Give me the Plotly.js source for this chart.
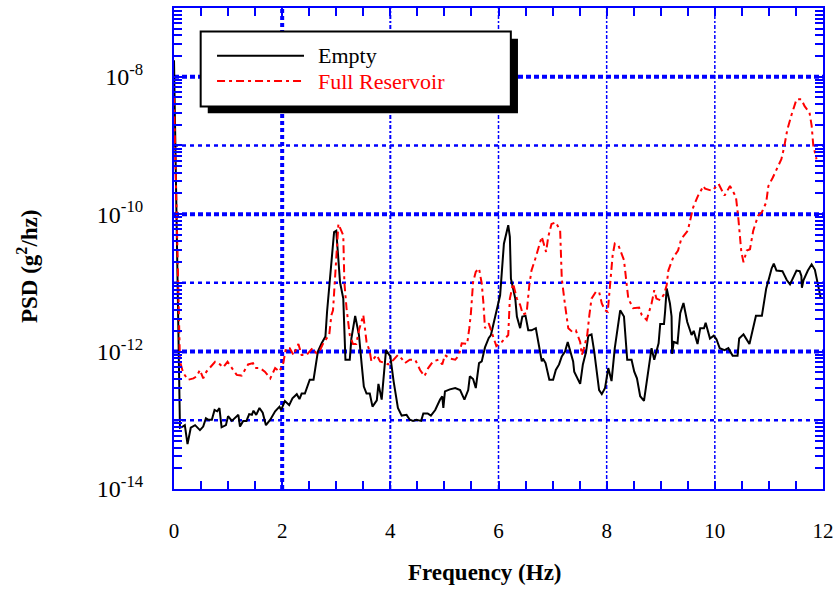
<!DOCTYPE html>
<html>
<head>
<meta charset="utf-8">
<script src="https://cdn.plot.ly/plotly-3.0.1.min.js"></script>
<style>html,body{margin:0;padding:0;background:#fff;}#chart{width:837px;height:590px;}</style>
</head>
<body>
<div id="chart"></div>
<script>
// ---- Data ----
const seriesNames = ['Empty', 'Full Reservoir'];

const emptyFreq = [0.00,0.11,0.16,0.20,0.25,0.31,0.39,0.48,0.54,0.59,0.63,0.70,0.75,0.80,0.84,0.88,0.96,1.00,1.07,1.13,1.19,1.22,1.28,1.34,1.39,1.44,1.47,1.52,1.58,1.64,1.70,1.78,1.87,1.95,1.98,2.05,2.13,2.19,2.27,2.32,2.36,2.42,2.51,2.58,2.66,2.73,2.80,2.83,2.88,2.92,2.96,3.00,3.07,3.13,3.17,3.25,3.28,3.35,3.42,3.47,3.51,3.56,3.62,3.67,3.75,3.78,3.84,3.92,4.00,4.06,4.14,4.21,4.30,4.36,4.42,4.48,4.57,4.61,4.69,4.75,4.83,4.92,4.96,4.98,5.01,5.10,5.20,5.29,5.37,5.44,5.47,5.53,5.58,5.64,5.69,5.75,5.82,5.86,5.94,5.99,6.03,6.10,6.18,6.21,6.23,6.31,6.34,6.40,6.44,6.50,6.55,6.61,6.69,6.74,6.80,6.82,6.87,6.94,7.01,7.06,7.12,7.17,7.23,7.28,7.34,7.38,7.40,7.46,7.51,7.56,7.62,7.66,7.72,7.77,7.83,7.86,7.91,7.97,8.03,8.09,8.15,8.20,8.25,8.32,8.38,8.46,8.51,8.56,8.62,8.69,8.77,8.83,8.88,8.96,8.99,9.06,9.08,9.11,9.17,9.20,9.21,9.24,9.31,9.36,9.42,9.49,9.57,9.61,9.68,9.73,9.80,9.83,9.91,9.98,10.03,10.09,10.18,10.25,10.33,10.42,10.45,10.53,10.64,10.76,10.87,10.95,11.00,11.05,11.09,11.14,11.25,11.33,11.39,11.45,11.51,11.57,11.60,11.61,11.64,11.72,11.79,11.85,11.90,11.96];
const emptyPSD = [1.74e-8,7.8e-14,8.1e-14,8.5e-14,4.5e-14,7.8e-14,8.5e-14,7.2e-14,8.1e-14,1.07e-13,1.02e-13,1.02e-13,1.41e-13,1.35e-13,1.51e-13,7.9e-14,8.5e-14,1.15e-13,9.8e-14,1.07e-13,1.20e-13,8.1e-14,9.8e-14,9.8e-14,1.23e-13,1.20e-13,1.38e-13,1.20e-13,1.51e-13,1.29e-13,8.5e-14,1.02e-13,1.35e-13,1.58e-13,1.41e-13,1.91e-13,1.66e-13,2.09e-13,2.40e-13,2.04e-13,2.45e-13,2.45e-13,3.89e-13,3.89e-13,1.0e-12,1.32e-12,1.66e-12,3.80e-12,1.02e-11,2.51e-11,5.5e-11,5.75e-11,1.02e-11,5.9e-12,7.6e-13,7.6e-13,1.55e-12,3.31e-12,1.74e-12,6.5e-13,3.09e-13,2.45e-13,2.45e-13,1.58e-13,1.95e-13,3.39e-13,2.0e-13,1.05e-12,8.5e-13,3.72e-13,1.51e-13,1.17e-13,1.20e-13,1.02e-13,9.8e-14,1.02e-13,9.8e-14,1.26e-13,1.26e-13,1.17e-13,1.41e-13,2.0e-13,2.24e-13,1.51e-13,2.63e-13,2.82e-13,2.95e-13,2.75e-13,2.0e-13,2.75e-13,4.37e-13,3.98e-13,2.95e-13,6.8e-13,7.2e-13,1.15e-12,1.58e-12,1.74e-12,3.39e-12,5.2e-12,6.6e-12,3.72e-11,6.9e-11,4.68e-11,1.15e-11,5.9e-12,3.24e-12,2.19e-12,3.24e-12,3.31e-12,2.04e-12,2.04e-12,2.19e-12,1.32e-12,7.2e-13,7.9e-13,6.8e-13,3.89e-13,3.89e-13,5.4e-13,6.5e-13,8.5e-13,1.0e-12,1.38e-12,9.5e-13,7.2e-13,5.1e-13,3.98e-13,3.39e-13,6.5e-13,1.0e-12,1.70e-12,1.78e-12,1.0e-12,3.72e-13,2.75e-13,2.40e-13,2.95e-13,5.75e-13,3.72e-13,1.12e-12,2.19e-12,3.98e-12,3.24e-12,7.6e-13,7.6e-13,5.1e-13,4.07e-13,2.24e-13,1.91e-13,5.75e-13,1.12e-12,7.6e-13,1.32e-12,2.51e-12,2.51e-12,3.80e-12,8.3e-12,5.0e-12,3.24e-12,9.3e-13,1.38e-12,1.32e-12,3.63e-12,5.1e-12,2.69e-12,1.74e-12,2.0e-12,1.29e-12,2.19e-12,2.19e-12,2.63e-12,1.55e-12,1.70e-12,1.51e-12,1.12e-12,1.05e-12,1.12e-12,8.7e-13,8.7e-13,1.55e-12,1.78e-12,1.29e-12,3.31e-12,3.31e-12,8.3e-12,1.15e-11,1.62e-11,1.91e-11,1.51e-11,1.48e-11,1.10e-11,9.5e-12,1.23e-11,1.51e-11,1.48e-11,1.26e-11,8.5e-12,1.10e-11,1.51e-11,1.86e-11,1.55e-11,1.0e-11,5.9e-12];

const fullFreq = [0.00,0.11,0.17,0.26,0.36,0.42,0.48,0.54,0.60,0.67,0.76,0.85,0.91,0.99,1.07,1.16,1.25,1.31,1.37,1.46,1.50,1.59,1.68,1.78,1.87,1.95,2.02,2.07,2.14,2.21,2.30,2.36,2.45,2.56,2.63,2.70,2.77,2.87,2.91,2.94,3.04,3.13,3.15,3.19,3.22,3.25,3.31,3.37,3.42,3.50,3.53,3.56,3.62,3.65,3.75,3.81,3.90,3.96,4.06,4.14,4.21,4.27,4.36,4.46,4.55,4.63,4.70,4.79,4.89,4.96,5.01,5.10,5.20,5.27,5.32,5.42,5.46,5.49,5.53,5.58,5.64,5.69,5.72,5.75,5.82,5.89,5.96,6.06,6.18,6.21,6.27,6.34,6.40,6.45,6.52,6.57,6.61,6.68,6.74,6.80,6.88,6.92,6.98,7.06,7.14,7.17,7.23,7.29,7.36,7.43,7.51,7.54,7.58,7.64,7.68,7.72,7.80,7.86,7.91,7.97,8.02,8.06,8.11,8.15,8.22,8.32,8.37,8.40,8.49,8.60,8.65,8.74,8.83,8.88,8.92,8.99,9.06,9.11,9.14,9.23,9.32,9.38,9.50,9.57,9.60,9.69,9.79,9.82,9.95,10.07,10.18,10.28,10.39,10.43,10.46,10.49,10.53,10.59,10.65,10.71,10.80,10.87,10.95,10.99,11.07,11.17,11.23,11.28,11.34,11.42,11.51,11.60,11.66,11.75,11.79,11.82,11.88];
const fullPSD = [5.0e-9,7.2e-13,4.9e-13,3.89e-13,4.07e-13,4.37e-13,5.4e-13,4.07e-13,5.1e-13,6.0e-13,7.1e-13,6.5e-13,5.9e-13,7.1e-13,5.75e-13,4.57e-13,4.47e-13,5.4e-13,6.5e-13,6.8e-13,5.75e-13,5.75e-13,5.1e-13,4.07e-13,5.75e-13,5.1e-13,6.8e-13,1.12e-12,1.12e-12,8.9e-13,1.29e-12,8.9e-13,8.9e-13,1.12e-12,9.5e-13,1.05e-12,1.38e-12,1.74e-12,3.39e-12,3.98e-12,7.2e-11,4.9e-11,1.02e-11,4.27e-12,2.51e-12,1.74e-12,1.29e-12,1.29e-12,2.04e-12,3.39e-12,2.19e-12,1.38e-12,1.0e-12,7.2e-13,8.9e-13,7.2e-13,6.8e-13,6.5e-13,7.6e-13,8.9e-13,7.9e-13,6.8e-13,7.6e-13,7.6e-13,5.4e-13,4.37e-13,5.75e-13,7.2e-13,7.6e-13,6.5e-13,8.9e-13,7.9e-13,7.6e-13,8.9e-13,1.32e-12,1.29e-12,2.19e-12,3.63e-12,1.02e-11,1.45e-11,1.62e-11,9.8e-12,5.2e-12,2.19e-12,2.57e-12,1.74e-12,1.2e-12,1.38e-12,1.74e-12,5.9e-12,9.8e-12,5.9e-12,4.79e-12,3.47e-12,3.63e-12,9.3e-12,1.51e-11,2.24e-11,3.31e-11,4.68e-11,2.82e-11,4.68e-11,7.2e-11,7.6e-11,5.75e-11,1.15e-11,4.79e-12,2.19e-12,1.95e-12,2.04e-12,1.38e-12,8.9e-13,1.12e-12,1.74e-12,3.39e-12,5.9e-12,7.4e-12,7.4e-12,5.0e-12,3.98e-12,3.80e-12,8.3e-12,2.51e-11,3.72e-11,3.47e-11,2.14e-11,9.8e-12,5.9e-12,4.27e-12,4.37e-12,3.39e-12,2.88e-12,5.0e-12,7.8e-12,5.9e-12,5.6e-12,6.8e-12,9.3e-12,1.51e-11,2.34e-11,2.95e-11,4.37e-11,5.75e-11,9.5e-11,1.26e-10,1.86e-10,2.57e-10,2.34e-10,2.19e-10,2.75e-10,1.86e-10,2.57e-10,1.78e-10,9.5e-11,4.9e-11,2.82e-11,2.0e-11,2.95e-11,3.09e-11,5.75e-11,9.5e-11,1.07e-10,1.48e-10,2.57e-10,3.39e-10,5.0e-10,6.3e-10,9.3e-10,1.70e-9,2.82e-9,4.68e-9,4.68e-9,3.72e-9,3.02e-9,1.95e-9,1.0e-9,6.3e-10];

// Axis labels
const xLabelVals = [0, 2, 4, 6, 8, 10, 12];
const xLabels = ['0', '2', '4', '6', '8', '10', '12'];
const yLabelVals = [1e-14, 1e-12, 1e-10, 1e-8];
const yLabels = ['10<sup>-14</sup>', '10<sup>-12</sup>', '10<sup>-10</sup>', '10<sup>-8</sup>'];
const xTitle = '<b>Frequency (Hz)</b>';
const yTitle = '<b>PSD (g<sup>2</sup>/hz)</b>';

// ---- Tick arrays (labels at even positions, minor ticks elsewhere) ----
const BLUE = '#0000ff';
const SERIF = 'Liberation Serif, Times New Roman, serif';
const xTickVals = [], xTickText = [];
for (let i = 0; i <= 24; i++) {
  const v = i * 0.5;
  xTickVals.push(v);
  const k = xLabelVals.indexOf(v);
  xTickText.push(k >= 0 ? xLabels[k] : '');
}
const yTickVals = [], yTickText = [];
for (let e = -14; e <= -7; e++) {
  for (let m = 1; m <= 9; m++) {
    if (e === -7 && m > 1) break;
    const v = Number((m + 'e' + e));
    yTickVals.push(v);
    const k = yLabelVals.findIndex(t => Math.abs(Math.log10(t) - Math.log10(v)) < 1e-9);
    yTickText.push(k >= 0 ? yLabels[k] : '');
  }
}

// ---- Traces ----
const traces = [
  { x: emptyFreq, y: emptyPSD, name: seriesNames[0], type: 'scatter', mode: 'lines',
    line: { color: '#000000', width: 2 } },
  { x: fullFreq, y: fullPSD, name: seriesNames[1], type: 'scatter', mode: 'lines',
    line: { color: '#ff0000', width: 2, dash: '8px,4px,3px,4px' } }
];

// ---- Grid lines & legend drawn as shapes ----
const shapes = [];
function vgrid(x, w, dash) {
  shapes.push({ type: 'line', xref: 'x', yref: 'paper', x0: x, x1: x, y0: 0, y1: 1,
    line: { color: BLUE, width: w, dash: dash }, layer: 'below' });
}
function hgrid(y, w, dash) {
  shapes.push({ type: 'line', xref: 'paper', yref: 'y', x0: 0, x1: 1, y0: y, y1: y,
    line: { color: BLUE, width: w, dash: dash }, layer: 'below' });
}
vgrid(2, 4, '4px,3px');
vgrid(4, 2, '4px,2px,2px,2px');
vgrid(6, 1.5, '4px,2px,2px,2px');
vgrid(8, 1.5, '4px,2px,2px,2px');
vgrid(10, 1.5, '4px,2px,2px,2px');
hgrid(1e-13, 2.5, '4px,4px');
hgrid(1e-12, 4, '5px,3px');
hgrid(1e-11, 2.5, '4px,4px');
hgrid(1e-10, 4, '5px,3px');
hgrid(1e-9, 2.5, '4px,4px');
hgrid(1e-8, 4, '5px,3px');

// legend box (paper coords)
shapes.push({ type: 'rect', xref: 'paper', yref: 'paper', x0: 0.052, x1: 0.530, y0: 0.781, y1: 0.936,
  line: { width: 0 }, fillcolor: '#000000', layer: 'above' });
shapes.push({ type: 'rect', xref: 'paper', yref: 'paper', x0: 0.0411, x1: 0.519, y0: 0.795, y1: 0.951,
  line: { width: 2, color: '#000000' }, fillcolor: '#ffffff', layer: 'above' });
shapes.push({ type: 'line', xref: 'paper', yref: 'paper', x0: 0.0663, x1: 0.2003, y0: 0.9008, y1: 0.9008,
  line: { width: 2, color: '#000000' }, layer: 'above' });
shapes.push({ type: 'line', xref: 'paper', yref: 'paper', x0: 0.0663, x1: 0.2003, y0: 0.848, y1: 0.848,
  line: { width: 2, color: '#ff0000', dash: '8px,4px,3px,4px' }, layer: 'above' });

const annotations = [
  { xref: 'paper', yref: 'paper', x: 0.2188, y: 0.9008, xanchor: 'left', yanchor: 'middle',
    text: seriesNames[0], showarrow: false, font: { family: SERIF, size: 22, color: '#000000' } },
  { xref: 'paper', yref: 'paper', x: 0.2188, y: 0.848, xanchor: 'left', yanchor: 'middle',
    text: seriesNames[1], showarrow: false, font: { family: SERIF, size: 22, color: '#ff0000' } },
  { xref: 'paper', yref: 'paper', x: 0.479, y: -0.1746, xanchor: 'center', yanchor: 'middle',
    text: xTitle, showarrow: false, font: { family: SERIF, size: 23, color: '#000000' } },
  { xref: 'paper', yref: 'paper', x: -0.2265, y: 0.4615, xanchor: 'center', yanchor: 'middle',
    text: yTitle, textangle: -90, showarrow: false, font: { family: SERIF, size: 23, color: '#000000' } }
];

const layout = {
  width: 837, height: 590,
  margin: { l: 174, r: 14, t: 8, b: 101, pad: 0 },
  paper_bgcolor: '#ffffff', plot_bgcolor: '#ffffff',
  showlegend: false,
  xaxis: {
    range: [0, 12], tickmode: 'array', tickvals: xTickVals, ticktext: xTickText,
    ticks: 'inside', ticklen: 8, tickwidth: 2, tickcolor: BLUE,
    showline: true, linecolor: BLUE, linewidth: 2, mirror: 'allticks',
    showgrid: false, zeroline: false, ticklabelstandoff: 22,
    tickfont: { family: SERIF, size: 21, color: '#000000' }
  },
  yaxis: {
    type: 'log', range: [-14, -7], tickmode: 'array', tickvals: yTickVals, ticktext: yTickText,
    ticks: 'inside', ticklen: 8, tickwidth: 2, tickcolor: BLUE,
    showline: true, linecolor: BLUE, linewidth: 2, mirror: 'allticks',
    showgrid: false, zeroline: false, ticklabelstandoff: 24,
    tickfont: { family: SERIF, size: 24, color: '#000000' }
  },
  shapes: shapes,
  annotations: annotations
};

Plotly.newPlot('chart', traces, layout, { displayModeBar: false, staticPlot: true });
</script>
</body>
</html>
